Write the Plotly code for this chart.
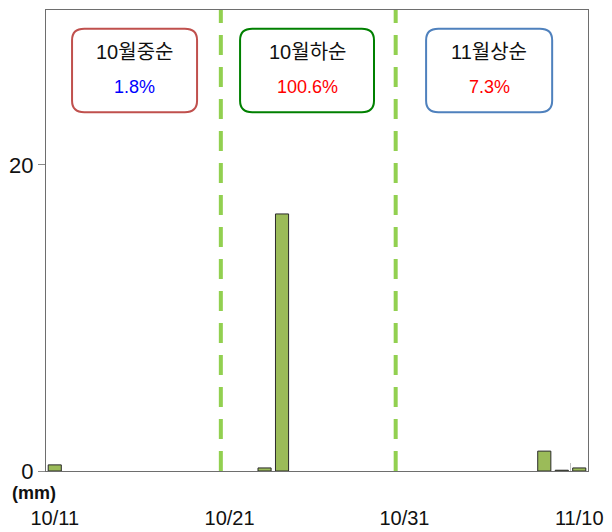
import plotly.graph_objects as go

# ---- data ----
dates = ["10/11","10/12","10/13","10/14","10/15","10/16","10/17","10/18","10/19","10/20",
         "10/21","10/22","10/23","10/24","10/25","10/26","10/27","10/28","10/29","10/30",
         "10/31","11/01","11/02","11/03","11/04","11/05","11/06","11/07","11/08","11/09","11/10"]
rain = [0.4,0,0,0,0,0,0,0,0,0,
        0,0,0.2,16.8,0,0,0,0,0,0,
        0,0,0,0,0,0,0,0,1.3,0.05,0.2]
tick_labels = ["10/11","10/21","10/31","11/10"]
tick_idx = [0, 10, 20, 30]
period_names = ["10월중순", "10월하순", "11월상순"]
period_pct = ["1.8%", "100.6%", "7.3%"]
pct_colors = ["#0000FF", "#FF0000", "#FF0000"]
box_colors = ["#C0504D", "#008000", "#4F81BD"]
box_x = [(0.99, 8.14), (10.6, 18.26), (21.24, 28.45)]
box_y = (23.45, 28.9)
divider_x = [9.5, 19.5]
boundary_ticks = [9.5, 19.5, 29.5]

FONT = "Liberation Sans, Arial, sans-serif"
KFONT = "Liberation Sans, Noto Sans CJK KR, sans-serif"

x = list(range(len(dates)))
y_plot = [v if v > 0 else None for v in rain]
fig = go.Figure()
fig.add_trace(go.Bar(x=x, y=y_plot, width=0.75,
                     marker=dict(color="#9BBB59", line=dict(color="#2b2b2b", width=1)),
                     hoverinfo="skip", showlegend=False))
# invisible trace to activate second x axis (labels)
fig.add_trace(go.Scatter(x=[None], y=[None], xaxis="x2", showlegend=False))

def rrect(x0, x1, y0, y1, rx=0.7, ry=0.75):
    return (f"M {x0+rx},{y0} L {x1-rx},{y0} Q {x1},{y0} {x1},{y0+ry} "
            f"L {x1},{y1-ry} Q {x1},{y1} {x1-rx},{y1} L {x0+rx},{y1} "
            f"Q {x0},{y1} {x0},{y1-ry} L {x0},{y0+ry} Q {x0},{y0} {x0+rx},{y0} Z")

shapes = []
for xv in divider_x:
    shapes.append(dict(type="line", xref="x", yref="paper", x0=xv, x1=xv, y0=0, y1=1,
                       line=dict(color="#92D050", width=4, dash="20px,12px"), layer="above"))
annotations = []
for (x0, x1), c, name, pct, pc in zip(box_x, box_colors, period_names, period_pct, pct_colors):
    shapes.append(dict(type="path", xref="x", yref="y", path=rrect(x0, x1, box_y[0], box_y[1]),
                       line=dict(color=c, width=2), fillcolor="white", layer="above"))
    cx = (x0 + x1) / 2
    annotations.append(dict(x=cx, y=27.4, xref="x", yref="y", text=name, showarrow=False,
                            font=dict(family=KFONT, size=20, color="#111111")))
    annotations.append(dict(x=cx, y=25.1, xref="x", yref="y", text=pct, showarrow=False,
                            font=dict(family=FONT, size=18, color=pc)))
annotations.append(dict(x=-0.022, y=-0.048, xref="paper", yref="paper", text="<b>(mm)</b>",
                        xanchor="center", yanchor="middle",
                        showarrow=False, font=dict(family=FONT, size=18, color="#111111")))

fig.update_layout(
    width=604, height=524,
    margin=dict(l=38, r=24, t=2, b=61, autoexpand=False),
    paper_bgcolor="white", plot_bgcolor="white",
    shapes=shapes, annotations=annotations,
    xaxis=dict(range=[-0.5, 30.5], tickmode="array", tickvals=boundary_ticks, ticktext=["", "", ""],
               ticks="inside", ticklen=8, tickcolor="#c0c0c0", tickwidth=1, automargin=False,
               showgrid=False, zeroline=False, showline=True, linecolor="#6e6e6e", linewidth=1,
               mirror=True, fixedrange=True),
    xaxis2=dict(range=[-0.5, 30.5], overlaying="x", anchor="y", side="bottom", automargin=False,
                tickmode="array", tickvals=tick_idx, ticktext=tick_labels,
                ticks="", ticklabelstandoff=33, showgrid=False, zeroline=False, showline=False,
                tickfont=dict(family=FONT, size=20, color="#111111")),
    yaxis=dict(range=[0, 30.13], tickmode="array", tickvals=[0, 20], ticktext=["0", "20"],
               ticks="outside", ticklen=7, tickcolor="#8a8a8a", showgrid=False, zeroline=False,
               showline=True, linecolor="#6e6e6e", linewidth=1, mirror=True, automargin=False,
               tickfont=dict(family=FONT, size=22, color="#111111")),
)
fig.write_html("out.html")
